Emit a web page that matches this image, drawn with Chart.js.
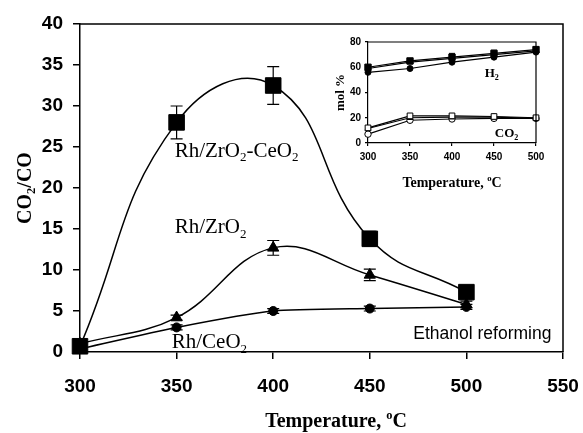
<!DOCTYPE html>
<html>
<head>
<meta charset="utf-8">
<script src="https://cdn.jsdelivr.net/npm/chart.js@4.4.0/dist/chart.umd.min.js"></script>
<style>
  html, body { margin: 0; padding: 0; background: #fff; }
  #wrap { position: relative; width: 583px; height: 433px; }
  #main { position: absolute; left: 0; top: 0; }
  #inset { position: absolute; left: 330px; top: 30px; }
</style>
</head>
<body>
<div id="wrap">
  <canvas id="main" width="583" height="433"></canvas>
  <canvas id="inset" width="230" height="170"></canvas>
</div>
<script>
// main plot: CO2/CO ratio vs temperature
var temps = [300, 350, 400, 450, 500];
var zrCe = [0.7, 28.0, 32.5, 13.8, 7.3];
var zrCeErr = [0, 2.0, 2.3, 0.9, 0.4];
var zr = [1.0, 4.2, 12.7, 9.4, 5.8];
var zrErr = [0, 0.3, 0.9, 0.7, 0.4];
var ce = [0.4, 3.0, 5.0, 5.3, 5.5];
var ceErr = [0, 0.3, 0.3, 0.3, 0.3];

// inset: product distribution, mol %
var h2ZrCe = [60, 65, 68, 71, 74];
var h2ZrCeErr = [0, 1.5, 3, 2.5, 2];
var h2Zr = [59, 64, 67, 70, 73];
var h2Ce = [56, 59, 64, 68, 72];
var co2ZrCe = [12, 21.5, 21.5, 21, 20];
var co2Zr = [11.5, 20, 20.5, 20.5, 19.5];
var co2Ce = [7, 18, 19, 19.5, 19.5];

var serif = '"Liberation Serif", "Times New Roman", serif';
var sans = '"Liberation Sans", Arial, sans-serif';

function pts(arr) {
  return temps.map(function(t, i) { return { x: t, y: arr[i] }; });
}

// draws text where "_2" is a subscript char and "^o" a superscript char
function drawRich(c, str, x, y, size, family, weight, align) {
  var parts = [];
  for (var i = 0; i < str.length; i++) {
    var ch = str[i];
    if ((ch === '_' || ch === '^') && i + 1 < str.length) {
      parts.push({ t: str[i + 1], s: ch });
      i++;
    } else if (parts.length && !parts[parts.length - 1].s) {
      parts[parts.length - 1].t += ch;
    } else {
      parts.push({ t: ch, s: null });
    }
  }
  var small = size * 0.62;
  function setFont(p) { c.font = weight + ' ' + (p.s ? small : size) + 'px ' + family; }
  var w = 0;
  parts.forEach(function(p) { setFont(p); w += c.measureText(p.t).width; });
  var cx = align === 'center' ? x - w / 2 : x;
  c.textAlign = 'left';
  c.textBaseline = 'alphabetic';
  parts.forEach(function(p) {
    setFont(p);
    var dy = p.s === '_' ? size * 0.22 : (p.s === '^' ? -size * 0.4 : 0);
    c.fillText(p.t, cx, y + dy);
    cx += c.measureText(p.t).width;
  });
}

var errorPlugin = {
  id: 'errorBars',
  afterDatasetsDraw: function(chart) {
    var c = chart.ctx;
    var xs = chart.scales.x, ys = chart.scales.y;
    chart.data.datasets.forEach(function(ds) {
      if (!ds.errs) return;
      c.save();
      c.strokeStyle = '#000';
      c.lineWidth = ds.errWidth || 1.2;
      ds.data.forEach(function(p, i) {
        var e = ds.errs[i];
        if (!e) return;
        var px = xs.getPixelForValue(p.x);
        var top = ys.getPixelForValue(p.y + e);
        var bot = ys.getPixelForValue(p.y - e);
        var cap = ds.capSize || 6;
        c.beginPath();
        c.moveTo(px, top); c.lineTo(px, bot);
        c.moveTo(px - cap, top); c.lineTo(px + cap, top);
        c.moveTo(px - cap, bot); c.lineTo(px + cap, bot);
        c.stroke();
      });
      c.restore();
    });
  }
};

var framePlugin = {
  id: 'frame',
  afterDraw: function(chart) {
    var a = chart.chartArea, c = chart.ctx;
    c.save();
    c.strokeStyle = '#000';
    c.lineWidth = chart.options.frameWidth || 1.5;
    c.beginPath();
    c.moveTo(a.left, a.top); c.lineTo(a.right, a.top); c.lineTo(a.right, a.bottom);
    c.stroke();
    c.restore();
  }
};

var mainText = {
  id: 'mainText',
  afterDraw: function(chart) {
    var c = chart.ctx, xs = chart.scales.x, ys = chart.scales.y, a = chart.chartArea;
    c.save();
    c.fillStyle = '#000';
    drawRich(c, 'Rh/ZrO_2-CeO_2', xs.getPixelForValue(349), ys.getPixelForValue(23.8), 21, serif, 'normal', 'left');
    drawRich(c, 'Rh/ZrO_2', xs.getPixelForValue(349), ys.getPixelForValue(14.5), 21, serif, 'normal', 'left');
    drawRich(c, 'Rh/CeO_2', xs.getPixelForValue(347.5), ys.getPixelForValue(0.5), 21, serif, 'normal', 'left');
    drawRich(c, 'Ethanol reforming', xs.getPixelForValue(472.5), ys.getPixelForValue(1.6), 17.5, sans, 'normal', 'left');
    drawRich(c, 'Temperature, ^oC', 336, 427, 20, serif, 'bold', 'center');
    c.translate(31, (a.top + a.bottom) / 2);
    c.rotate(-Math.PI / 2);
    drawRich(c, 'CO_2/CO', 0, 0, 20, serif, 'bold', 'center');
    c.restore();
  }
};

var insetText = {
  id: 'insetText',
  afterDraw: function(chart) {
    var c = chart.ctx, xs = chart.scales.x, ys = chart.scales.y, a = chart.chartArea;
    c.save();
    c.fillStyle = '#000';
    drawRich(c, 'H_2', xs.getPixelForValue(439), ys.getPixelForValue(52), 13, serif, 'bold', 'left');
    drawRich(c, 'CO_2', xs.getPixelForValue(451), ys.getPixelForValue(5), 13, serif, 'bold', 'left');
    drawRich(c, 'Temperature, ^oC', (a.left + a.right) / 2, a.bottom + 44, 14, serif, 'bold', 'center');
    c.translate(a.left - 24, (a.top + a.bottom) / 2);
    c.rotate(-Math.PI / 2);
    drawRich(c, 'mol %', 0, 0, 13, serif, 'bold', 'center');
    c.restore();
  }
};

function mainSet(arr, errs, style, r, tension) {
  return {
    data: pts(arr), errs: errs, capSize: 6,
    borderColor: '#000', borderWidth: 1.5, tension: tension,
    pointStyle: style, pointRadius: r, pointBackgroundColor: '#000',
    pointBorderColor: '#000', pointBorderWidth: 1, clip: false
  };
}

function insetSet(arr, errs, style, r, filled) {
  return {
    data: pts(arr), errs: errs, capSize: 3, errWidth: 1,
    borderColor: '#000', borderWidth: 1.2, tension: 0,
    pointStyle: style, pointRadius: r, pointBackgroundColor: filled ? '#000' : '#fff',
    pointBorderColor: '#000', pointBorderWidth: 1, clip: false
  };
}

function axis(min, max, step, fontSize, tickLen, pad, lw) {
  return {
    type: 'linear', min: min, max: max,
    ticks: { stepSize: step, color: '#000', padding: pad, font: { family: sans, size: fontSize, weight: 'bold' } },
    grid: { drawOnChartArea: false, drawTicks: true, tickLength: tickLen, color: '#000', lineWidth: lw },
    border: { color: '#000', width: lw }
  };
}

// keep the plot box fixed: no extra room for the edge tick labels
function fixBox(h, w) {
  return function(s) {
    if (h) s.height = h;
    if (w) s.width = w;
    s.paddingLeft = 0; s.paddingRight = 0; s.paddingTop = 0; s.paddingBottom = 0;
  };
}

var mx = axis(300, 550, 50, 19, 7, 16, 1.5);
mx.afterFit = fixBox(81, 0);
var my = axis(0, 40, 5, 19, 7, 10, 1.5);
my.afterFit = fixBox(0, 80);

new Chart(document.getElementById('main'), {
  type: 'line',
  data: {
    datasets: [
      mainSet(zrCe, zrCeErr, 'rect', 11, 0.45),
      mainSet(zr, zrErr, 'triangle', 6.5, 0.4),
      mainSet(ce, ceErr, 'circle', 4.5, 0.2)
    ]
  },
  options: {
    responsive: false, animation: false,
    layout: { padding: { top: 24, right: 20, left: 0, bottom: 0 } },
    plugins: { legend: { display: false }, tooltip: { enabled: false } },
    scales: { x: mx, y: my }
  },
  plugins: [errorPlugin, framePlugin, mainText]
});

var ix = axis(300, 500, 50, 10, 3, 5, 1.2);
ix.afterFit = fixBox(57, 0);
var iy = axis(0, 80, 20, 10, 3, 4, 1.2);
iy.afterFit = fixBox(0, 38);

new Chart(document.getElementById('inset'), {
  type: 'line',
  data: {
    datasets: [
      insetSet(h2ZrCe, h2ZrCeErr, 'rect', 4.5, true),
      insetSet(h2Zr, null, 'triangle', 3.5, true),
      insetSet(h2Ce, null, 'circle', 3, true),
      insetSet(co2ZrCe, null, 'rect', 4, false),
      insetSet(co2Zr, null, 'triangle', 3.5, false),
      insetSet(co2Ce, null, 'circle', 3.2, false)
    ]
  },
  options: {
    responsive: false, animation: false, frameWidth: 1.2,
    layout: { padding: { top: 12, right: 24, left: 0, bottom: 0 } },
    plugins: { legend: { display: false }, tooltip: { enabled: false } },
    scales: { x: ix, y: iy }
  },
  plugins: [errorPlugin, framePlugin, insetText]
});
</script>
</body>
</html>
